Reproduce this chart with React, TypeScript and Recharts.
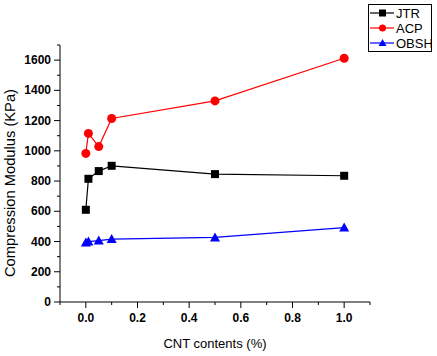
import React from 'react';
import { LineChart, Line, XAxis, YAxis } from 'recharts';

const cnt = [0, 0.01, 0.05, 0.1, 0.5, 1.0];
const jtr = [610, 815, 866, 901, 846, 835];
const acp = [983, 1115, 1028, 1214, 1330, 1612];
const obsh = [393, 400, 406, 416, 427, 492];

// major ticks carry labels, minor ticks sit between them
const xTicks = [-0.1, 0, 0.1, 0.2, 0.3, 0.4, 0.5, 0.6, 0.7, 0.8, 0.9, 1.0, 1.1];
const xLabeled = [0, 0.2, 0.4, 0.6, 0.8, 1.0];
const yTicks = [0, 100, 200, 300, 400, 500, 600, 700, 800, 900, 1000, 1100, 1200, 1300, 1400, 1500, 1600, 1700];
const yLabeled = [0, 200, 400, 600, 800, 1000, 1200, 1400, 1600];

const data = cnt.map((c, i) => ({ cnt: c, JTR: jtr[i], ACP: acp[i], OBSH: obsh[i] }));

const fontFamily = 'Liberation Sans, Arial, sans-serif';
const labelFont = { fontFamily, fontSize: 13, fill: '#000' };

const isMajor = (v: number, list: number[]) => list.some((m) => Math.abs(m - v) < 1e-6);

const XTick = (props: any) => {
  const { x, y, payload } = props;
  const major = isMajor(payload.value, xLabeled);
  return (
    <g>
      <line x1={x} x2={x} y1={y} y2={y + (major ? 6 : 3)} stroke="#000" />
      {major && (
        <text x={x} y={y + 20} textAnchor="middle" fontFamily={fontFamily} fontSize={12} fontWeight={700} fill="#000">
          {payload.value.toFixed(1)}
        </text>
      )}
    </g>
  );
};

const YTick = (props: any) => {
  const { x, y, payload } = props;
  const major = isMajor(payload.value, yLabeled);
  return (
    <g>
      <line x1={x} x2={x - (major ? 6 : 3)} y1={y} y2={y} stroke="#000" />
      {major && (
        <text x={x - 9} y={y + 4} textAnchor="end" fontFamily={fontFamily} fontSize={12} fontWeight={700} fill="#000">
          {payload.value}
        </text>
      )}
    </g>
  );
};

const YLabel = () => (
  <text
    x={10}
    y={183}
    transform="rotate(-90 10 183)"
    textAnchor="middle"
    dominantBaseline="central"
    textLength={188}
    lengthAdjust="spacingAndGlyphs"
    style={{ ...labelFont, fontSize: 14 }}
  >
    Compression Modulus (KPa)
  </text>
);

const Square = (props: any) => {
  const { cx, cy, index } = props;
  return <rect key={`s${index}`} x={cx - 4} y={cy - 4} width={8} height={8} fill="#000" />;
};

const Circle = (props: any) => {
  const { cx, cy, index } = props;
  return <circle key={`c${index}`} cx={cx} cy={cy} r={4.5} fill="#ff0000" />;
};

const Triangle = (props: any) => {
  const { cx, cy, index } = props;
  return (
    <polygon
      key={`t${index}`}
      points={`${cx},${cy - 5} ${cx - 5},${cy + 4} ${cx + 5},${cy + 4}`}
      fill="#0000ff"
    />
  );
};

const legendItems = [
  { name: 'JTR', color: '#000', shape: 'square' },
  { name: 'ACP', color: '#ff0000', shape: 'circle' },
  { name: 'OBSH', color: '#0000ff', shape: 'triangle' }
];

const LegendBox = () => (
  <svg width={64} height={48} style={{ display: 'block', position: 'absolute', left: 368, top: 4 }}>
    <rect x={0.5} y={0.5} width={63} height={47} fill="#fff" stroke="#000" />
    {legendItems.map((it, i) => {
      const y = 9 + i * 15;
      return (
        <g key={it.name}>
          <line x1={2} x2={26} y1={y} y2={y} stroke={it.color} strokeWidth={1.2} />
          {it.shape === 'square' && <rect x={11} y={y - 3.5} width={7} height={7} fill={it.color} />}
          {it.shape === 'circle' && <circle cx={14.5} cy={y} r={3.5} fill={it.color} />}
          {it.shape === 'triangle' && (
            <polygon points={`${14.5},${y - 4} ${10.5},${y + 3} ${18.5},${y + 3}`} fill={it.color} />
          )}
          <text x={28} y={y + 4.5} style={labelFont}>{it.name}</text>
        </g>
      );
    })}
  </svg>
);

export default function App() {
  return (
    <div style={{ position: 'absolute', left: 0, top: 0, width: 437, height: 356, background: '#fff' }}>
      <LineChart width={437} height={356} data={data} margin={{ top: 45, right: 67, bottom: 0, left: 0 }}>
        <XAxis
          type="number"
          dataKey="cnt"
          domain={[-0.1, 1.1]}
          ticks={xTicks}
          interval={0}
          tickSize={0}
          tickMargin={0}
          tickLine={false}
          tick={XTick}
          height={54}
          stroke="#000"
          allowDataOverflow
          label={{ value: 'CNT contents (%)', position: 'insideBottom', offset: 8, style: labelFont }}
        />
        <YAxis
          type="number"
          domain={[0, 1700]}
          ticks={yTicks}
          interval={0}
          tickSize={0}
          tickMargin={0}
          tickLine={false}
          tick={YTick}
          width={60}
          stroke="#000"
          allowDataOverflow
          label={<YLabel />}
        />
        <Line dataKey="JTR" stroke="#000" strokeWidth={1.2} dot={Square} activeDot={false} isAnimationActive={false} />
        <Line dataKey="ACP" stroke="#ff0000" strokeWidth={1.2} dot={Circle} activeDot={false} isAnimationActive={false} />
        <Line dataKey="OBSH" stroke="#0000ff" strokeWidth={1.2} dot={Triangle} activeDot={false} isAnimationActive={false} />
      </LineChart>
      <LegendBox />
    </div>
  );
}
